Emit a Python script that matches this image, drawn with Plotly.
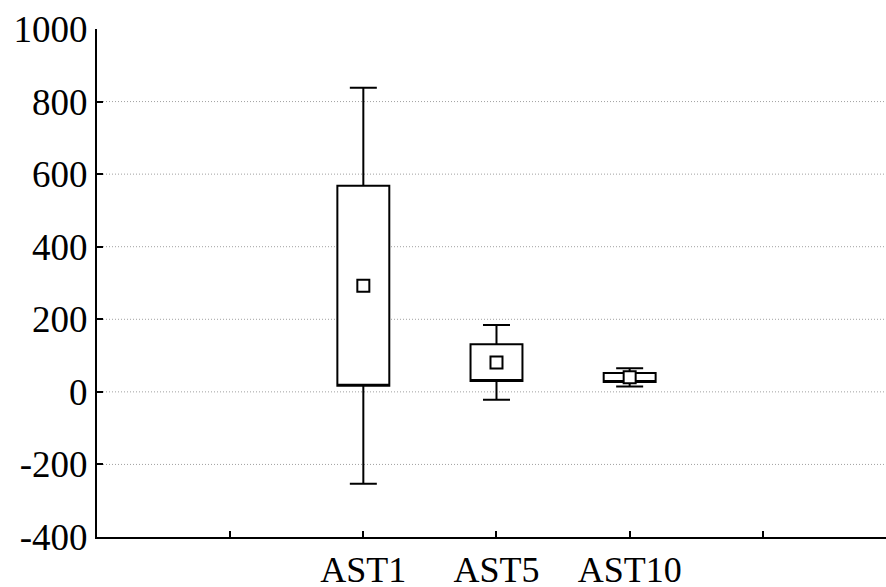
import plotly.graph_objects as go

categories = ["AST1", "AST5", "AST10"]
cat_pos = [1, 2, 3]
means = [292.5, 81, 40]
box_low = [17, 30, 27]
box_high = [568, 131, 52]
whisk_low = [-253, -22, 15]
whisk_high = [838, 184, 65]

x_tickvals = [0, 1, 2, 3, 4]
x_ticktext = ["", "AST1", "AST5", "AST10", ""]
y_tickvals = [-400, -200, 0, 200, 400, 600, 800, 1000]
y_ticktext = ["-400", "-200", "0", "200", "400", "600", "800", "1000"]
grid_vals = [-200, 0, 200, 400, 600, 800]

fig = go.Figure()

fig.add_trace(go.Box(
    x=cat_pos,
    q1=box_low,
    median=box_low,
    q3=box_high,
    lowerfence=whisk_low,
    upperfence=whisk_high,
    width=0.39,
    whiskerwidth=0.52,
    boxpoints=False,
    fillcolor="white",
    line=dict(color="black", width=2),
    showlegend=False,
    hoverinfo="skip",
))

fig.add_trace(go.Scatter(
    x=cat_pos,
    y=means,
    mode="markers",
    marker=dict(symbol="square", size=12, color="white",
                line=dict(color="black", width=2)),
    showlegend=False,
    hoverinfo="skip",
))

for g in grid_vals:
    fig.add_shape(type="line", xref="paper", yref="y", x0=0, x1=1, y0=g, y1=g,
                  line=dict(color="#a0a0a0", width=1, dash="1px,2px"), layer="below")

yfont = dict(family="Liberation Serif", size=37, color="black")
xfont = dict(family="Liberation Serif", size=36, color="black")

fig.update_layout(
    width=886, height=587,
    margin=dict(l=97, r=0, t=29, b=50, autoexpand=False),
    paper_bgcolor="white", plot_bgcolor="white",
    font=yfont,
    xaxis=dict(
        range=[-1.0, 4.925],
        tickmode="array", tickvals=x_tickvals, ticktext=x_ticktext,
        ticks="inside", ticklen=6, tickwidth=1.5, tickcolor="black",
        showline=True, linecolor="black", linewidth=2,
        showgrid=False, zeroline=False,
        ticklabelstandoff=0,
        automargin=False,
        tickfont=xfont,
    ),
    yaxis=dict(
        range=[-400, 1000],
        tickmode="array", tickvals=y_tickvals, ticktext=y_ticktext,
        ticks="inside", ticklen=6, tickwidth=1.5, tickcolor="black",
        showline=True, linecolor="black", linewidth=2,
        showgrid=False, zeroline=False,
        automargin=False,
        tickfont=yfont,
    ),
)

fig.write_html(
    "out.html",
    config={"displayModeBar": False},
    post_script="document.body.style.margin='0';document.body.style.padding='0';document.body.style.overflow='hidden';",
)
